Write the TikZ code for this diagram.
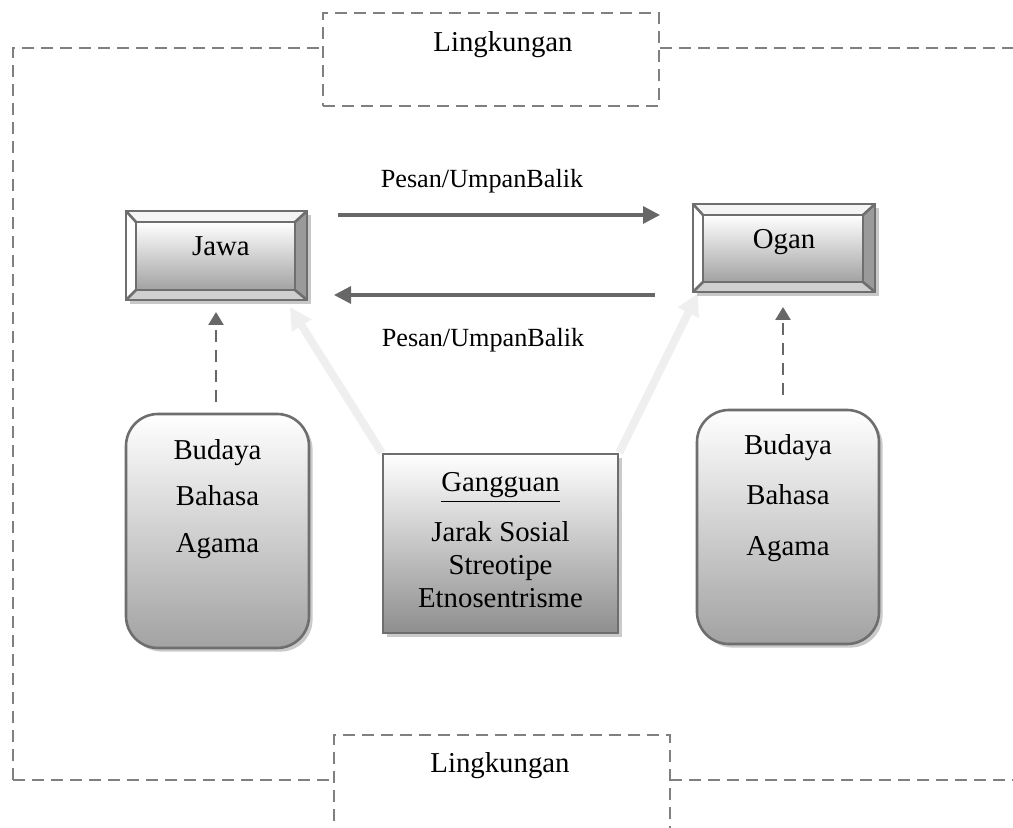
\documentclass[tikz,border=0pt]{standalone}
\usepackage{fontspec}
\setmainfont{Liberation Serif}
\usetikzlibrary{arrows.meta,shadows,calc}
\pgfdeclarelayer{backlayer}
\pgfsetlayers{backlayer,main}
\definecolor{edgec}{HTML}{6E6E6E}
\definecolor{dashc}{HTML}{808080}
\definecolor{arrc}{HTML}{676767}
\definecolor{ghostc}{HTML}{EFEFEF}
\definecolor{faceb}{HTML}{A2A2A2}
\definecolor{gangb}{HTML}{8E8E8E}
\definecolor{bevtopc}{HTML}{F4F4F4}
\definecolor{bevrightc}{HTML}{9A9A9A}
\definecolor{bevbotc}{HTML}{CFCFCF}
\definecolor{shadowc}{HTML}{C8C8C8}
\newcommand{\bevelbox}[4]{%
  \fill[shadowc] (#1+4,#2+4) rectangle (#3+4,#4+4);
  \fill[bevtopc] (#1,#2) -- (#3,#2) -- (#3-12,#2+11) -- (#1+10,#2+11) -- cycle;
  \fill[white] (#1,#2) -- (#1+10,#2+11) -- (#1+10,#4-10) -- (#1,#4) -- cycle;
  \fill[bevrightc] (#3,#2) -- (#3,#4) -- (#3-12,#4-10) -- (#3-12,#2+11) -- cycle;
  \fill[bevbotc] (#1,#4) -- (#3,#4) -- (#3-12,#4-10) -- (#1+10,#4-10) -- cycle;
  \shade[top color=white, bottom color=faceb] (#1+10,#2+11) rectangle (#3-12,#4-10);
  \draw[edgec, line width=1.3pt, line join=miter] (#1,#2) rectangle (#3,#4);
  \draw[edgec, line width=1.3pt] (#1+10,#2+11) rectangle (#3-12,#4-10);
  \draw[edgec, line width=1.3pt] (#1,#2) -- (#1+10,#2+11) (#3,#2) -- (#3-12,#2+11)
     (#1,#4) -- (#1+10,#4-10) (#3,#4) -- (#3-12,#4-10);
}
\tikzset{
  body/.style={font=\fontsize{14.4}{17}\selectfont, inner sep=0pt, anchor=base},
  small/.style={font=\fontsize{13.1}{16}\selectfont, inner sep=0pt, anchor=base},
  envline/.style={dashc, line width=1pt, dash pattern=on 6pt off 3.5pt},
  roundbox/.style={draw=edgec, line width=1.3pt, rounded corners=16pt,
     top color=white, bottom color=faceb,
     drop shadow={shadow xshift=1.8pt, shadow yshift=-1.8pt, fill=black!35, opacity=0.6}},
  gangbox/.style={draw=edgec, line width=1.3pt,
     top color=white, bottom color=gangb,
     drop shadow={shadow xshift=1.8pt, shadow yshift=-1.8pt, fill=black!35, opacity=0.6}},
  msgarrow/.style={arrc, line width=1.6pt, -{Triangle[length=8.5pt,width=8.5pt]}},
  dasharrow/.style={arrc, line width=1.3pt, dash pattern=on 6pt off 4pt,
     -{Triangle[length=6.5pt,width=7.5pt]}},
  ghostarrow/.style={ghostc, line width=4pt, -{Triangle[length=11pt,width=11pt]}},
}
\begin{document}
\begin{tikzpicture}[x=0.5pt,y=-0.5pt]
\useasboundingbox (0,0) rectangle (1013,828);

% environment frame
\node[envline, draw, minimum width=168pt, minimum height=46.5pt, inner sep=0pt] (envtop) at (491,60) {};
\node[body] (lingtop) at (503,52) {Lingkungan};
\coordinate (fl) at (13,48);
\coordinate (fbl) at (13,780);
\coordinate (fr) at (1013,48);
\coordinate (fbr) at (1013,780);
\draw[envline] (fbl) -- (fl) -- (envtop.west |- fl);
\draw[envline] (envtop.east |- fr) -- (fr);
\coordinate (bl) at (334,840);
\coordinate (br) at (670,840);
\coordinate (btl) at (334,735);
\coordinate (btr) at (670,735);
\draw[envline] (bl) -- (btl) -- (btr) -- (br);
\draw[envline] (fbl) -- (btl |- fbl);
\draw[envline] (btr |- fbr) -- (fbr);
\node[body] (lingbot) at (500,772) {Lingkungan};

% noise box and its ghost arrows
\node[gangbox, minimum width=117.5pt, minimum height=89.5pt, inner sep=0pt] (gang) at (500.5,543.5) {};
\coordinate (jtip) at (290,307);
\coordinate (otip) at (698,293);
\begin{pgfonlayer}{backlayer}
\draw[ghostarrow] (gang.north west) -- (jtip);
\draw[ghostarrow] (gang.north east) -- (otip);
\end{pgfonlayer}
\node[body] (gt) at (500.5,492) {\underline{Gangguan}};
\node[body] (g1) at (500.5,542) {Jarak Sosial};
\node[body] (g2) at (500.5,575) {Streotipe};
\node[body] (g3) at (500.5,608) {Etnosentrisme};

% actors
\bevelbox{126}{211}{307}{300}
\node[body] (jawa) at (221,256) {Jawa};
\bevelbox{693}{204}{875}{292}
\node[body] (ogan) at (784,249) {Ogan};

% messages
\coordinate (m1s) at (338,215);
\coordinate (m1e) at (660,215);
\coordinate (m2s) at (655,295);
\coordinate (m2e) at (334,295);
\draw[msgarrow] (m1s) -- (m1e);
\draw[msgarrow] (m2s) -- (m2e);
\node[small] (p1) at (482,188) {Pesan/UmpanBalik};
\node[small] (p2) at (483,347) {Pesan/UmpanBalik};

% culture boxes
\node[roundbox, minimum width=91.5pt, minimum height=117pt, inner sep=0pt] (cl) at (217.5,531) {};
\node[body] (cl1) at (217.5,460) {Budaya};
\node[body] (cl2) at (217.5,506) {Bahasa};
\node[body] (cl3) at (217.5,553) {Agama};
\node[roundbox, minimum width=91pt, minimum height=117pt, inner sep=0pt] (cr) at (788,527) {};
\node[body] (cr1) at (788,455) {Budaya};
\node[body] (cr2) at (788,505) {Bahasa};
\node[body] (cr3) at (788,556) {Agama};

\coordinate (jb) at (216,312);
\coordinate (ob) at (783,307);
\coordinate (cls) at (216,402);
\coordinate (crs) at (783,395);
\draw[dasharrow] (cls) -- (jb);
\draw[dasharrow] (crs) -- (ob);
\end{tikzpicture}
\end{document}
